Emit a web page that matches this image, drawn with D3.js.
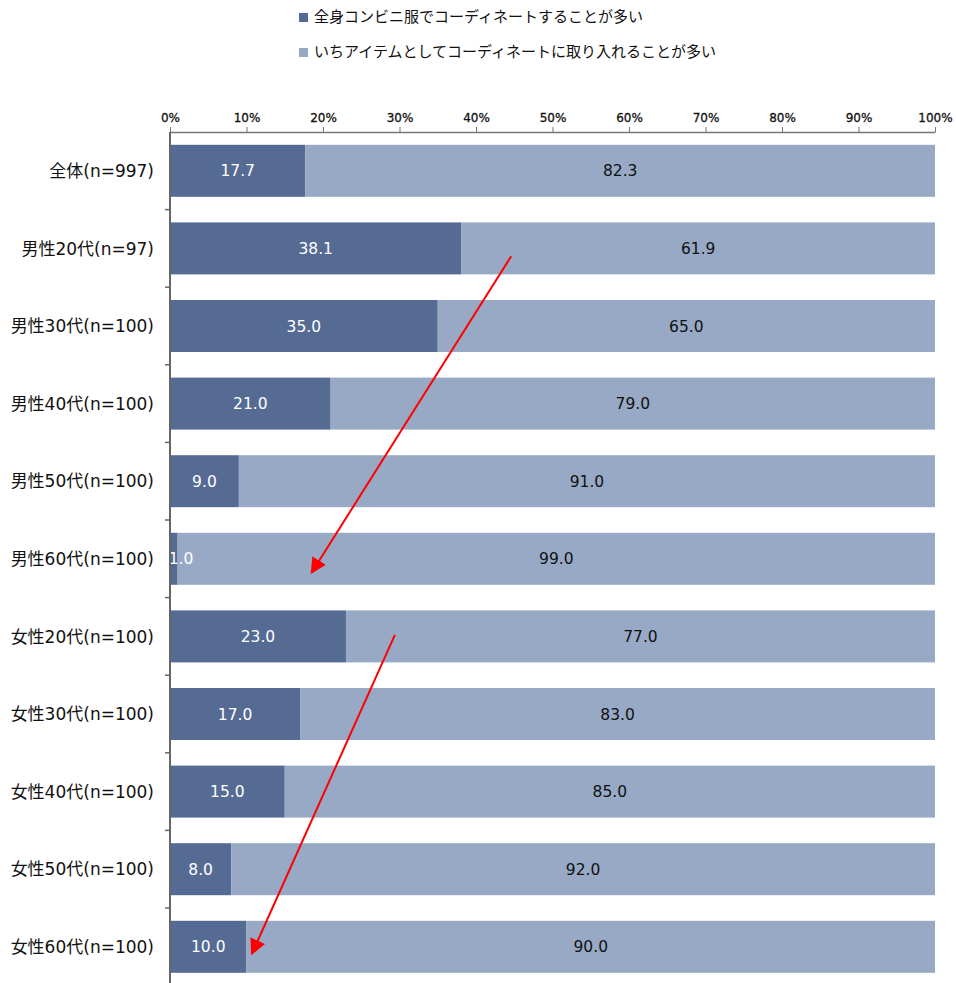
<!DOCTYPE html>
<html><head><meta charset="utf-8">
<script src="https://cdn.jsdelivr.net/npm/d3@7"></script>
<style>body{margin:0;background:#fff}text{font-family:"DejaVu Sans","Noto Sans CJK JP",sans-serif}</style>
</head><body><svg id="c" width="956" height="983"></svg>
<script>
const categories = ["全体(n=997)","男性20代(n=97)","男性30代(n=100)","男性40代(n=100)","男性50代(n=100)","男性60代(n=100)","女性20代(n=100)","女性30代(n=100)","女性40代(n=100)","女性50代(n=100)","女性60代(n=100)"];
const seriesNames = ["全身コンビニ服でコーディネートすることが多い","いちアイテムとしてコーディネートに取り入れることが多い"];
const fullOutfit = [17.7,38.1,35.0,21.0,9.0,1.0,23.0,17.0,15.0,8.0,10.0];
const oneItem = [82.3,61.9,65.0,79.0,91.0,99.0,77.0,83.0,85.0,92.0,90.0];
const tickValues = [0,10,20,30,40,50,60,70,80,90,100];
const colors = ["#556b94","#97a9c5"];
// annotation arrows: [x%, category index, fraction within band]
const arrows = [
  {from:[44.6,1,0.6], to:[18.5,5,0.68]},
  {from:[29.4,6,0.48], to:[10.7,10,0.59]}
];

const svg = d3.select("#c");
const L=170, R=935, T=132, B=985.6;
const x = d3.scaleLinear().domain([0,100]).range([L,R]);
const y = d3.scaleBand().domain(categories).range([T,B]).paddingInner(0.33).paddingOuter(0.165);
const yb = d3.scaleBand().domain(categories).range([T,B]);

// bars
const rows = categories.map((c,i)=>({c, a:fullOutfit[i], b:oneItem[i]}));
const g = svg.append("g");
g.selectAll("rect.a").data(rows).join("rect")
  .attr("x",x(0)).attr("y",d=>y(d.c)).attr("width",d=>x(d.a)-x(0)).attr("height",y.bandwidth()).attr("fill",colors[0]);
g.selectAll("rect.b").data(rows).join("rect")
  .attr("x",d=>x(d.a)).attr("y",d=>y(d.c)).attr("width",d=>x(d.a+d.b)-x(d.a)).attr("height",y.bandwidth()).attr("fill",colors[1]);

// labels
svg.append("clipPath").attr("id","pc").append("rect").attr("x",L+1).attr("y",T).attr("width",R-L).attr("height",B-T);
const lg = svg.append("g").attr("clip-path","url(#pc)").attr("font-size",15.5).attr("text-anchor","middle");
lg.selectAll("text.a").data(rows).join("text")
  .attr("x",d=>Math.max((x(0)+x(d.a))/2, L+11)).attr("y",d=>y(d.c)+y.bandwidth()/2).attr("dy","0.36em")
  .attr("fill","#fff").text(d=>d.a.toFixed(1));
lg.selectAll("text.b").data(rows).join("text")
  .attr("x",d=>(x(d.a)+x(d.a+d.b))/2).attr("y",d=>y(d.c)+y.bandwidth()/2).attr("dy","0.36em")
  .attr("fill","#111").text(d=>d.b.toFixed(1));

// top axis
const xa = svg.append("g").attr("transform",`translate(0,${T})`)
  .call(d3.axisTop(x).tickValues(tickValues).tickFormat(d=>d+"%").tickSize(5).tickSizeOuter(0));
xa.select(".domain").attr("stroke","#777").attr("stroke-width",1.5);
xa.selectAll(".tick line").attr("stroke","#777");
xa.selectAll(".tick text").attr("font-size",12).attr("fill","#111").attr("dy","-0.15em")
  .attr("font-family","'DejaVu Sans',sans-serif").attr("stroke","#111").attr("stroke-width",0.3);

// left axis with ticks at band boundaries
svg.append("line").attr("x1",L).attr("x2",L).attr("y1",T).attr("y2",983).attr("stroke","#666").attr("stroke-width",2);
svg.append("g").selectAll("line").data(categories.slice(1)).join("line")
  .attr("x1",L-5).attr("x2",L).attr("y1",d=>yb(d)).attr("y2",d=>yb(d)).attr("stroke","#666").attr("stroke-width",1.5);
svg.append("g").attr("font-size",17).attr("text-anchor","end").selectAll("text").data(categories).join("text")
  .attr("x",154).attr("y",d=>y(d)+y.bandwidth()/2).attr("dy","0.36em").attr("fill","#111").text(d=>d);

// legend
const leg = svg.append("g").attr("font-size",15).attr("font-family","'Noto Sans CJK JP',sans-serif");
seriesNames.forEach((s,i)=>{
  const yy = 17 + i*35;
  leg.append("rect").attr("x",299).attr("y",yy-4).attr("width",9).attr("height",9).attr("fill",colors[i]);
  leg.append("text").attr("x",314).attr("y",yy).attr("dy","0.36em").attr("fill","#111").text(s);
});

// arrows
const defs = svg.append("defs");
defs.append("marker").attr("id","ah").attr("viewBox","0 0 10 10").attr("refX",9).attr("refY",5)
  .attr("markerWidth",8).attr("markerHeight",8).attr("orient","auto").attr("markerUnits","strokeWidth")
  .append("path").attr("d","M0,0 L10,5 L0,10 Z").attr("fill","#ff0000");
const pos = p => [x(p[0]), yb(categories[p[1]]) + yb.bandwidth()*p[2]];
svg.append("g").selectAll("line").data(arrows).join("line")
  .attr("x1",d=>pos(d.from)[0]).attr("y1",d=>pos(d.from)[1])
  .attr("x2",d=>pos(d.to)[0]).attr("y2",d=>pos(d.to)[1])
  .attr("stroke","#ff0000").attr("stroke-width",2).attr("marker-end","url(#ah)");
</script></body></html>
